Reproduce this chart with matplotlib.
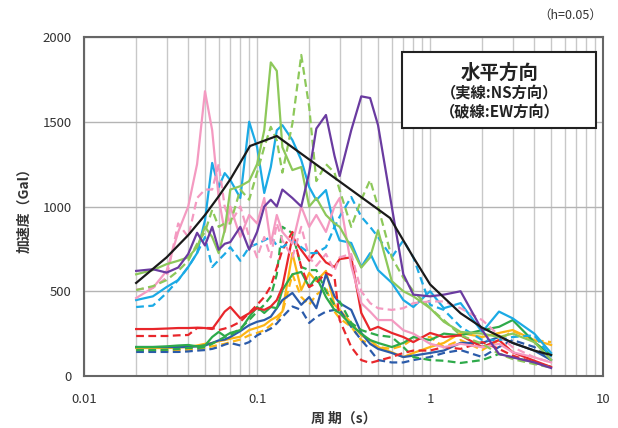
import numpy as np
import matplotlib
matplotlib.use("Agg")
import matplotlib.pyplot as plt
from matplotlib.ticker import LogLocator, NullFormatter
from matplotlib.patches import Rectangle

plt.rcParams['font.family'] = ['Noto Sans CJK JP', 'DejaVu Sans']

# period grid (s)
T = [0.02, 0.025, 0.03, 0.035, 0.04, 0.045, 0.05, 0.055, 0.06, 0.065,
     0.07, 0.08, 0.09, 0.1, 0.11, 0.12, 0.13, 0.14, 0.16, 0.18,
     0.2, 0.22, 0.25, 0.28, 0.3, 0.35, 0.4, 0.45, 0.5, 0.6,
     0.7, 0.8, 1.0, 1.2, 1.5, 2.0, 2.5, 3.0, 4.0, 5.0]

# design spectrum (black)
T_design = [0.02, 0.03, 0.04, 0.05, 0.06, 0.07, 0.08, 0.091, 0.13, 0.587,
            0.8, 1.0, 1.5, 2.0, 3.0, 4.0, 5.0]
Sa_design = [549, 700, 831, 950, 1060, 1160, 1260, 1357, 1416, 932,
             700, 540, 370, 285, 195, 150, 124]

pink_ns = [460, 520, 620, 850, 1000, 1250, 1680, 1450, 1050, 850,
           1000, 820, 950, 900, 1050, 780, 950, 850, 780, 1000,
           880, 950, 850, 1000, 1050, 650, 430, 380, 330, 330,
           270, 250, 190, 170, 190, 170, 190, 140, 110, 80]
pink_ew = [510, 520, 580, 900, 820, 1050, 1100, 1100, 1250, 1000,
           900, 1000, 820, 700, 820, 700, 900, 800, 700, 880,
           700, 650, 720, 620, 700, 720, 500, 430, 400, 390,
           400, 430, 440, 440, 400, 330, 240, 170, 110, 80]
purple_ns = [620, 630, 610, 640, 720, 845, 770, 880, 745, 780,
             790, 880, 745, 850, 1000, 1040, 1000, 1100, 1050, 1000,
             1200, 1460, 1540, 1300, 1180, 1450, 1650, 1640, 1480, 1000,
             600, 480, 470, 480, 500, 270, 130, 110, 80, 47]
lgreen_ns = [600, 625, 660, 680, 700, 760, 880, 820, 725, 860,
             1100, 1120, 1150, 1250, 1450, 1850, 1800, 1350, 1215, 1233,
             1000, 1050, 950, 900, 880, 760, 640, 700, 860, 560,
             500, 470, 400, 320, 260, 250, 230, 250, 200, 95]
lgreen_ew = [507, 530, 566, 620, 680, 780, 850, 980, 880, 900,
             900, 1100, 1040, 1200, 1350, 1470, 1390, 1200, 1490, 1894,
             1587, 1150, 1250, 1200, 1097, 880, 1040, 1156, 1000, 700,
             580, 500, 400, 330, 240, 190, 130, 100, 70, 50]
sky_ns = [448, 470, 525, 566, 643, 725, 920, 1257, 1115, 1197,
          1156, 1050, 1500, 1350, 1080, 1233, 1450, 1480, 1392, 1274,
          1115, 1038, 1097, 880, 800, 785, 643, 725, 625, 550,
          448, 407, 500, 400, 430, 260, 380, 340, 250, 136]
sky_ew = [407, 415, 490, 566, 643, 725, 820, 643, 684, 720,
          760, 680, 760, 780, 800, 820, 770, 760, 800, 760,
          725, 725, 760, 880, 940, 1056, 940, 880, 820, 700,
          800, 700, 420, 390, 290, 212, 212, 230, 240, 112]
red_ns = [277, 277, 280, 283, 283, 285, 283, 277, 330, 380,
          407, 340, 370, 400, 390, 410, 448, 525, 820, 743,
          680, 740, 670, 643, 690, 700, 372, 271, 290, 254,
          230, 200, 254, 230, 240, 171, 212, 140, 90, 53]
red_ew = [236, 236, 236, 240, 242, 283, 283, 283, 271, 280,
          290, 320, 372, 420, 466, 530, 640, 743, 850, 643,
          525, 549, 608, 584, 330, 171, 94, 77, 90, 112,
          136, 150, 150, 171, 160, 200, 160, 120, 80, 53]
green_ns = [171, 171, 175, 180, 183, 175, 180, 230, 260, 235,
            254, 271, 348, 407, 372, 407, 400, 507, 600, 614,
            525, 584, 466, 390, 372, 300, 250, 212, 195, 171,
            195, 230, 212, 250, 240, 271, 290, 330, 200, 124]
green_ew = [153, 153, 155, 160, 165, 165, 170, 190, 212, 230,
            240, 280, 330, 380, 420, 470, 600, 880, 843, 643,
            625, 625, 500, 420, 440, 313, 271, 254, 240, 230,
            171, 112, 94, 90, 77, 94, 130, 110, 80, 53]
navy_ns = [171, 171, 171, 171, 171, 175, 180, 195, 210, 215,
           230, 265, 300, 320, 330, 350, 400, 448, 490, 420,
           466, 400, 600, 470, 430, 390, 254, 190, 160, 136,
           112, 120, 136, 150, 195, 195, 230, 195, 150, 94]
navy_ew = [142, 142, 142, 142, 145, 150, 153, 160, 171, 185,
           195, 180, 200, 240, 260, 280, 310, 348, 410, 390,
           313, 348, 380, 390, 390, 290, 212, 153, 94, 80,
           80, 94, 112, 136, 153, 112, 171, 212, 171, 94]
orange_ns = [165, 165, 165, 168, 171, 180, 190, 195, 205, 212,
             220, 232, 271, 285, 300, 330, 350, 380, 725, 507,
             608, 560, 620, 420, 390, 313, 240, 212, 171, 140,
             112, 136, 171, 195, 254, 230, 254, 271, 212, 183]
orange_ew = [150, 150, 150, 152, 155, 160, 165, 175, 183, 190,
             200, 215, 240, 254, 270, 300, 330, 372, 600, 466,
             420, 480, 520, 380, 340, 290, 212, 190, 171, 160,
             180, 220, 230, 171, 212, 153, 212, 265, 212, 200]

series = [
    (orange_ew, '#FDB515', '--'), (orange_ns, '#FDB515', '-'),
    (navy_ew, '#2B5BAA', '--'), (navy_ns, '#2B5BAA', '-'),
    (green_ew, '#2EAA4A', '--'), (green_ns, '#2EAA4A', '-'),
    (red_ew, '#E8262B', '--'), (red_ns, '#E8262B', '-'),
    (sky_ew, '#1BAAE5', '--'), (sky_ns, '#1BAAE5', '-'),
    (pink_ew, '#F49AC1', '--'), (pink_ns, '#F49AC1', '-'),
    (lgreen_ew, '#8DC85A', '--'), (lgreen_ns, '#8DC85A', '-'),
    (purple_ns, '#6A3BA0', '-'),
]

fig = plt.figure(figsize=(6.18, 4.28), dpi=100)
ax = fig.add_axes([0.136, 0.1215, 0.840, 0.792])

for vals, col, ls in series:
    if ls == '--':
        ax.plot(T, vals, color=col, lw=1.6, ls=(0, (3.5, 2)),
                dash_joinstyle='round')
    else:
        ax.plot(T, vals, color=col, lw=1.6, solid_joinstyle='round')
ax.plot(T_design, Sa_design, color='#1a1a1a', lw=1.6, solid_joinstyle='round')

ax.set_xscale('log')
ax.set_xlim(0.01, 10)
ax.set_ylim(0, 2000)
ax.set_yticks([0, 500, 1000, 1500, 2000])
ax.set_xticks([0.01, 0.1, 1, 10])
ax.set_xticklabels(['0.01', '0.1', '1', '10'])
ax.xaxis.set_minor_locator(LogLocator(base=10, subs=np.arange(2, 10)))
ax.xaxis.set_minor_formatter(NullFormatter())
ax.grid(True, which='both', axis='x', color='#c8c8c8', lw=1.0)
ax.grid(True, which='major', axis='y', color='#b4b4b4', lw=1.0)
ax.set_axisbelow(True)
ax.tick_params(which='both', length=0, labelsize=9.5, colors='#333333', pad=9)
ax.tick_params(axis='x', pad=12)
for s in ax.spines.values():
    s.set_color('#666666')
    s.set_linewidth(1.5)

ax.set_xlabel('周 期（s）', fontsize=10, fontweight='bold', color='#333333', labelpad=4)
ax.set_ylabel('加速度（Gal）', fontsize=10, fontweight='bold', color='#333333', labelpad=8)

fig.text(0.975, 0.965, '（h=0.05）', ha='right', va='center', fontsize=9, color='#333333')

box = Rectangle((0.613, 0.732), 0.374, 0.224, transform=ax.transAxes,
                facecolor='white', edgecolor='#222222', lw=1.5, zorder=5)
ax.add_patch(box)
ax.text(0.80, 0.894, '水平方向', transform=ax.transAxes, ha='center', va='center',
        fontsize=14, fontweight='bold', color='#222222', zorder=6)
ax.text(0.80, 0.835, '（実線:NS方向）', transform=ax.transAxes, ha='center', va='center',
        fontsize=11, fontweight='bold', color='#222222', zorder=6)
ax.text(0.80, 0.779, '（破線:EW方向）', transform=ax.transAxes, ha='center', va='center',
        fontsize=11, fontweight='bold', color='#222222', zorder=6)

fig.savefig('out.png', dpi=100)
